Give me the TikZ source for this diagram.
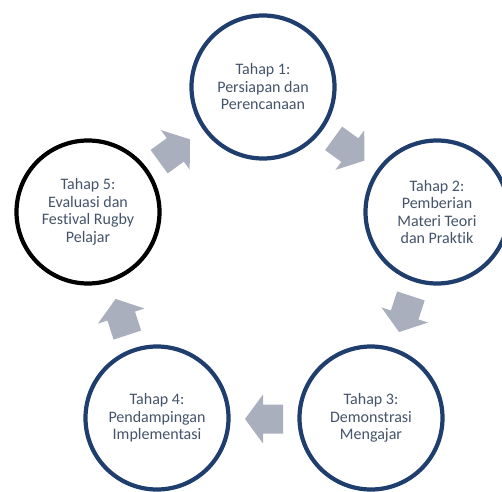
\documentclass[tikz,border=0pt]{standalone}
\usepackage{fontspec}
\setmainfont{Carlito}[Ligatures={NoCommon}]
\usetikzlibrary{calc}
\definecolor{ringblue}{HTML}{1F3E6E}
\definecolor{txtcol}{HTML}{44546A}
\definecolor{arrowgray}{HTML}{AAAFBD}
\tikzset{
  stage/.style={circle, draw=ringblue, line width=4.2pt, fill=white,
    minimum size=143pt, inner sep=0pt, align=center, text=txtcol,
    font=\fontsize{16}{17.5}\selectfont},
  stagelast/.style={stage, draw=black},
  blockarrow/.style={fill=arrowgray}
}
\newcommand{\blockarr}[2]{%
  \fill[blockarrow, shift={(#1)}, rotate=#2]
    (-19pt,-14.5pt) -- (1pt,-14.5pt) -- (1pt,-24.5pt) -- (19pt,0pt)
    -- (1pt,24.5pt) -- (1pt,14.5pt) -- (-19pt,14.5pt) -- cycle;}
\begin{document}
\begin{tikzpicture}[x=1pt,y=1pt]
\useasboundingbox (0,0) rectangle (502,491);
\clip (0,0) rectangle (502,491);
\node[stage] (c1) at (263,404) {Tahap 1:\\Persiapan dan\\Perencanaan};
\node[stage] (c2) at (437,279) {Tahap 2:\\Pemberian\\Materi Teori\\dan Praktik};
\node[stage] (c3) at (371,73) {Tahap 3:\\Demonstrasi\\Mengajar};
\node[stage] (c4) at (157,73) {Tahap 4:\\Pendampingan\\Implementasi};
\node[stagelast] (c5) at (88,279) {Tahap 5:\\Evaluasi dan\\Festival Rugby\\Pelajar};
\coordinate (a12) at ($(c1.center)!0.5!(c2.center)+(-1,0)$);
\coordinate (a23) at ($(c2.center)!0.5!(c3.center)+(1,1)$);
\coordinate (a34) at ($(c3.center)!0.5!(c4.center)+(0,-1)$);
\coordinate (a45) at ($(c4.center)!0.5!(c5.center)+(-1,-2)$);
\coordinate (a51) at ($(c5.center)!0.5!(c1.center)+(-1,-1)$);
\blockarr{a12}{-36}
\blockarr{a23}{-108}
\blockarr{a34}{180}
\blockarr{a45}{108}
\blockarr{a51}{36}
\end{tikzpicture}
\end{document}
